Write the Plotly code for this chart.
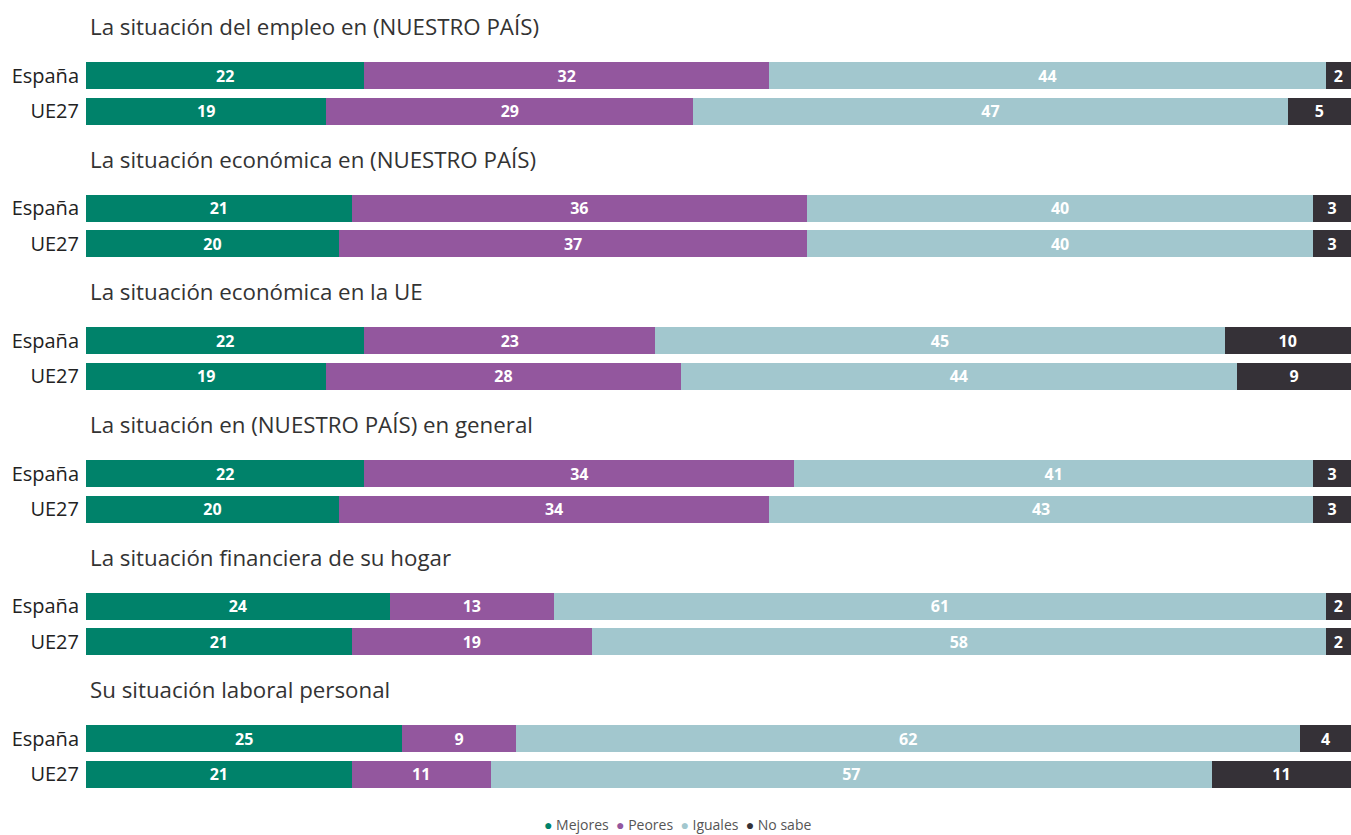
import plotly.graph_objects as go

titles = [
    "La situación del empleo en (NUESTRO PAÍS)",
    "La situación económica en (NUESTRO PAÍS)",
    "La situación económica en la UE",
    "La situación en (NUESTRO PAÍS) en general",
    "La situación financiera de su hogar",
    "Su situación laboral personal",
]
regions = ["España", "UE27"]
series_names = ["Mejores", "Peores", "Iguales", "No sabe"]

mejores_es = [22, 21, 22, 22, 24, 25]
mejores_ue = [19, 20, 19, 20, 21, 21]
peores_es = [32, 36, 23, 34, 13, 9]
peores_ue = [29, 37, 28, 34, 19, 11]
iguales_es = [44, 40, 45, 41, 61, 62]
iguales_ue = [47, 40, 44, 43, 58, 57]
nosabe_es = [2, 3, 10, 3, 2, 4]
nosabe_ue = [5, 3, 9, 3, 2, 11]

colors = ["#00826A", "#93579E", "#A2C7CE", "#353137"]
series = [
    (mejores_es, mejores_ue),
    (peores_es, peores_ue),
    (iguales_es, iguales_ue),
    (nosabe_es, nosabe_ue),
]

W, H = 1351, 835
ML = 86
first_center = 75.7
group_step = 132.6
row_gap = 35.5
bar_h = 27.0
title_offset = 49.0

font_main = "Open Sans"

fig = go.Figure()
layout = dict(
    width=W, height=H,
    margin=dict(l=ML, r=0, t=0, b=0, autoexpand=False),
    paper_bgcolor="white", plot_bgcolor="white",
    barmode="stack",
    bargap=1 - bar_h / row_gap,
    showlegend=False,
    font=dict(family=font_main, color="#333333"),
)

annotations = []
for g, title in enumerate(titles):
    ce = first_center + group_step * g
    top = ce - row_gap / 2
    bottom = ce + row_gap + row_gap / 2
    ax = "" if g == 0 else str(g + 1)
    layout["xaxis" + ax] = dict(
        domain=[0, 1], range=[0, 100], visible=False, fixedrange=True,
        anchor="y" + ax,
    )
    layout["yaxis" + ax] = dict(
        domain=[1 - bottom / H, 1 - top / H], anchor="x" + ax,
        type="category", categoryorder="array", categoryarray=regions,
        autorange="reversed", showgrid=False, zeroline=False, showline=False,
        ticks="", ticklabelstandoff=6, fixedrange=True,
        tickfont=dict(family=font_main, size=20, color="#222222"),
    )
    for s, (name, (vals_es, vals_ue)) in enumerate(zip(series_names, series)):
        vals = [vals_es[g], vals_ue[g]]
        fig.add_trace(go.Bar(
            x=vals, y=regions, orientation="h", name=name,
            marker=dict(color=colors[s], line=dict(width=0)),
            text=[str(v) for v in vals],
            textposition="inside", insidetextanchor="middle", textangle=0,
            constraintext="none",
            textfont=dict(family=font_main, size=16, color="white", weight="bold"),
            xaxis="x" + ax, yaxis="y" + ax, showlegend=False,
            hoverinfo="x+y+name",
        ))
    annotations.append(dict(
        text=title, xref="paper", yref="paper",
        x=(88 - ML) / (W - ML), y=1 - (ce - title_offset) / H,
        xanchor="left", yanchor="middle", showarrow=False,
        font=dict(family=font_main, size=22.3, color="#333333"),
    ))

legend_text = "&nbsp;&nbsp;".join(
    f"<span style='color:{c}'>●</span>&nbsp;{n}" for c, n in zip(colors, series_names)
)
annotations.append(dict(
    text=legend_text, xref="paper", yref="paper",
    x=(677 - ML) / (W - ML), y=1 - 824 / H,
    xanchor="center", yanchor="middle", showarrow=False,
    font=dict(family=font_main, size=14, color="#555555"),
))

layout["annotations"] = annotations
fig.update_layout(**layout)
fig.write_html(
    "out.html",
    config={"displayModeBar": False},
    post_script="document.body.style.margin='0';document.body.style.overflow='hidden';",
)
